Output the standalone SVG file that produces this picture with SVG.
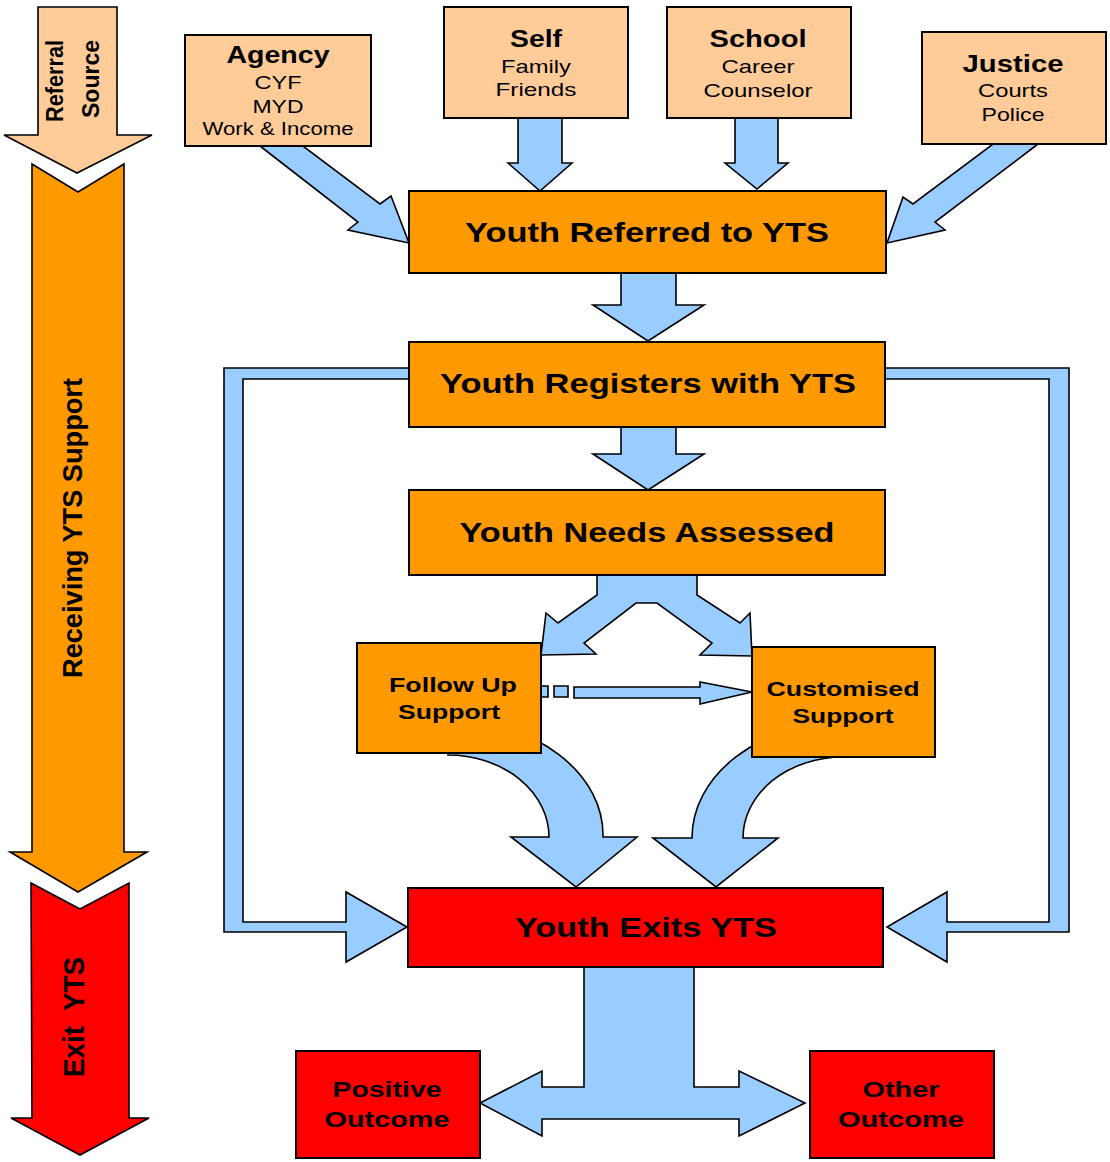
<svg xmlns="http://www.w3.org/2000/svg" width="1110" height="1162" viewBox="0 0 1110 1162">
<style>
text{font-family:"Liberation Sans",Arial,sans-serif;fill:#000;text-anchor:middle}
.b{font-weight:bold}
.peach{fill:#FFCC99;stroke:#000;stroke-width:2}
.orange{fill:#FF9900;stroke:#000;stroke-width:2}
.red{fill:#FF0000;stroke:#000;stroke-width:2}
.conn{fill:#99CCFF;stroke:#000;stroke-width:1.6;stroke-linejoin:miter}
.band{stroke:#000;stroke-width:1.6}
</style>
<rect width="1110" height="1162" fill="#fff"/>

<!-- side bands -->
<g id="band-referral-source">
<polygon class="band" fill="#FFCC99" points="38,7 117,7 117,135 152,135 77,173 4,135 38,135"/>
<text class="b" font-size="23" textLength="82" lengthAdjust="spacingAndGlyphs" transform="translate(63,81) rotate(-90)">Referral</text>
<text class="b" font-size="23" textLength="78" lengthAdjust="spacingAndGlyphs" transform="translate(99,79) rotate(-90)">Source</text>
</g>
<g id="band-receiving-support">
<polygon class="band" fill="#FF9900" points="32,164 78,192 124,164 124,852 147,852 78,892 10,852 32,852"/>
<text class="b" font-size="28" textLength="300" lengthAdjust="spacingAndGlyphs" transform="translate(82,528) rotate(-90)">Receiving YTS Support</text>
</g>
<g id="band-exit">
<polygon class="band" fill="#FF0000" points="31,883 80,909 129,883 129,1118 149,1118 80,1155 11,1118 32,1118"/>
<text class="b" font-size="29" textLength="120" lengthAdjust="spacingAndGlyphs" xml:space="preserve" transform="translate(84,1017) rotate(-90)">Exit  YTS</text>
</g>

<!-- connectors -->
<g id="connectors">
<polygon class="conn" points="260,146 358,222 348,230 409,243 391,196 380,204 303,146"/>
<polygon class="conn" points="518,118 518,163 508,163 540,191 572,163 562,163 562,118"/>
<polygon class="conn" points="735,118 735,163 725,163 757,189 788,163 778,163 778,118"/>
<polygon class="conn" points="1038,144 935,222 945,230 887,243 903,197 913,204 993,144"/>
<polygon class="conn" points="621,273 621,305 593,305 648,341 704,305 676,305 676,273"/>
<polygon class="conn" points="621,427 621,454 593,454 648,490 704,454 676,454 676,427"/>
<polygon class="conn" points="409,368 224,368 224,932 346,932 346,962 407,927 346,892 346,922 243,922 243,379 409,379"/>
<polygon class="conn" points="885,368 1069,368 1069,932 947,932 947,962 887,927 947,892 947,922 1049,922 1049,379 885,379"/>
<polygon class="conn" points="597,575 597,595 558,623 546,613 541,655 596,654 584,643 636,603 657,603 712,643 700,655 752,656 750,613 740,623 697,595 697,575"/>
<path class="conn" d="M 448,720 A 155,115 0 0 1 603,837 L 637,837 L 576,887 L 511,837 L 549,837 A 101,82 0 0 0 448,755 Z"/>
<path class="conn" d="M 843,723 A 151,115 0 0 0 692,838 L 653,838 L 716,887 L 778,838 L 743,838 A 100,81 0 0 1 843,757 Z"/>
<polygon class="conn" points="541,686 548,686 548,697 541,697"/>
<polygon class="conn" points="554,686 568,686 568,697 554,697"/>
<polygon class="conn" points="574,687 700,687 700,682 752,692 700,704 700,698 574,698"/>
<polygon class="conn" points="584,967 584,1087 542,1087 542,1071 480,1103 542,1136 542,1119 739,1119 739,1136 805,1103 739,1071 739,1087 694,1087 694,967"/>
</g>

<!-- source nodes -->
<g id="node-agency">
<rect class="peach" x="185" y="35" width="186" height="111"/>
<text class="b" x="278" y="63" font-size="23" textLength="103" lengthAdjust="spacingAndGlyphs">Agency</text>
<text x="278" y="89" font-size="19" textLength="47" lengthAdjust="spacingAndGlyphs">CYF</text>
<text x="278" y="113" font-size="19" textLength="51" lengthAdjust="spacingAndGlyphs">MYD</text>
<text x="278" y="135" font-size="18" textLength="151" lengthAdjust="spacingAndGlyphs">Work &amp; Income</text>
</g>
<g id="node-self">
<rect class="peach" x="444" y="7" width="184" height="111"/>
<text class="b" x="536" y="47" font-size="23" textLength="52" lengthAdjust="spacingAndGlyphs">Self</text>
<text x="536" y="73" font-size="19" textLength="70" lengthAdjust="spacingAndGlyphs">Family</text>
<text x="536" y="96" font-size="19" textLength="81" lengthAdjust="spacingAndGlyphs">Friends</text>
</g>
<g id="node-school">
<rect class="peach" x="667" y="7" width="184" height="111"/>
<text class="b" x="758" y="47" font-size="23" textLength="97" lengthAdjust="spacingAndGlyphs">School</text>
<text x="758" y="73" font-size="19" textLength="73" lengthAdjust="spacingAndGlyphs">Career</text>
<text x="758" y="97" font-size="19" textLength="109" lengthAdjust="spacingAndGlyphs">Counselor</text>
</g>
<g id="node-justice">
<rect class="peach" x="922" y="32" width="184" height="112"/>
<text class="b" x="1013" y="72" font-size="23" textLength="101" lengthAdjust="spacingAndGlyphs">Justice</text>
<text x="1013" y="97" font-size="19" textLength="70" lengthAdjust="spacingAndGlyphs">Courts</text>
<text x="1013" y="121" font-size="19" textLength="63" lengthAdjust="spacingAndGlyphs">Police</text>
</g>

<!-- process nodes -->
<g id="node-referred">
<rect class="orange" x="409" y="191" width="477" height="82"/>
<text class="b" x="647" y="242" font-size="28" textLength="364" lengthAdjust="spacingAndGlyphs">Youth Referred to YTS</text>
</g>
<g id="node-registers">
<rect class="orange" x="409" y="342" width="476" height="85"/>
<text class="b" x="648" y="393" font-size="28" textLength="416" lengthAdjust="spacingAndGlyphs">Youth Registers with YTS</text>
</g>
<g id="node-needs">
<rect class="orange" x="409" y="490" width="476" height="85"/>
<text class="b" x="647" y="542" font-size="28" textLength="375" lengthAdjust="spacingAndGlyphs">Youth Needs Assessed</text>
</g>
<g id="node-followup">
<rect class="orange" x="357" y="643" width="184" height="110"/>
<text class="b" x="453" y="692" font-size="21" textLength="128" lengthAdjust="spacingAndGlyphs">Follow Up</text>
<text class="b" x="449" y="719" font-size="21" textLength="102" lengthAdjust="spacingAndGlyphs">Support</text>
</g>
<g id="node-customised">
<rect class="orange" x="752" y="647" width="183" height="110"/>
<text class="b" x="843" y="696" font-size="21" textLength="153" lengthAdjust="spacingAndGlyphs">Customised</text>
<text class="b" x="843" y="723" font-size="21" textLength="101" lengthAdjust="spacingAndGlyphs">Support</text>
</g>
<g id="node-exits">
<rect class="red" x="408" y="888" width="475" height="79"/>
<text class="b" x="646" y="937" font-size="27" textLength="262" lengthAdjust="spacingAndGlyphs">Youth Exits YTS</text>
</g>
<g id="node-positive">
<rect class="red" x="296" y="1051" width="184" height="107"/>
<text class="b" x="387" y="1097" font-size="22" textLength="109" lengthAdjust="spacingAndGlyphs">Positive</text>
<text class="b" x="387" y="1127" font-size="22" textLength="125" lengthAdjust="spacingAndGlyphs">Outcome</text>
</g>
<g id="node-other">
<rect class="red" x="810" y="1051" width="184" height="107"/>
<text class="b" x="901" y="1097" font-size="22" textLength="77" lengthAdjust="spacingAndGlyphs">Other</text>
<text class="b" x="901" y="1127" font-size="22" textLength="126" lengthAdjust="spacingAndGlyphs">Outcome</text>
</g>
</svg>
